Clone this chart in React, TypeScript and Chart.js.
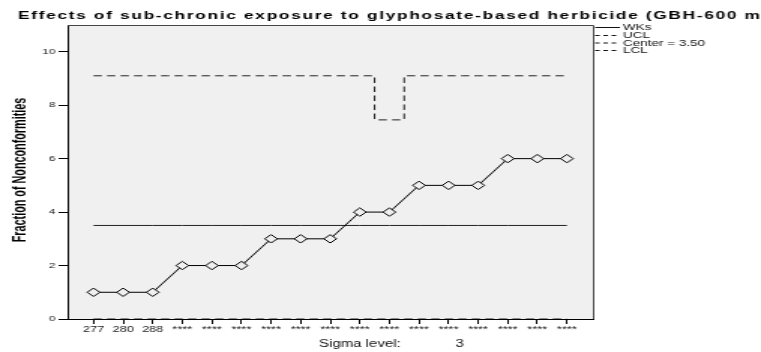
import React, { useEffect, useRef } from "react";
import { Chart, registerables } from "chart.js";

Chart.register(...registerables);

const categories = ["277", "280", "288", "****", "****", "****", "****", "****", "****", "****", "****", "****", "****", "****", "****", "****", "****"];
const wksValues = [1, 1, 1, 2, 2, 2, 3, 3, 3, 4, 4, 5, 5, 5, 6, 6, 6];
const uclValues = [9.1, 9.1, 9.1, 9.1, 9.1, 9.1, 9.1, 9.1, 9.1, 9.1, 7.45, 9.1, 9.1, 9.1, 9.1, 9.1, 9.1];
const centerValues = [3.5, 3.5, 3.5, 3.5, 3.5, 3.5, 3.5, 3.5, 3.5, 3.5, 3.5, 3.5, 3.5, 3.5, 3.5, 3.5, 3.5];
const lclValues = [0, 0, 0, 0, 0, 0, 0, 0, 0, 0, 0, 0, 0, 0, 0, 0, 0];
const yTicks = [0, 2, 4, 6, 8, 10];
const legendLabels = ["WKs", "UCL", "Center = 3.50", "LCL"];
const titleText = "Effects of sub-chronic exposure to glyphosate-based herbicide (GBH-600 mg/kg)";
const yTitle = "Fraction of Nonconformities";
const sigmaLabel = "Sigma level:";
const sigmaValue = "3";

const W = 507;
const H = 352;
const STRETCH = 761 / W;
const FONT = "'Liberation Sans', Arial, sans-serif";

const pts = (arr: number[]) => arr.map((v, i) => ({ x: i, y: v }));

const decorPlugin = {
  id: "decor",
  beforeDraw(chart: any) {
    const { ctx, chartArea: a } = chart;
    ctx.save();
    ctx.fillStyle = "#ffffff";
    ctx.fillRect(0, 0, chart.width, chart.height);
    ctx.fillStyle = "#f0f0f0";
    ctx.fillRect(a.left, a.top, a.right - a.left, a.bottom - a.top);
    ctx.restore();
  },
  afterDraw(chart: any) {
    const { ctx, chartArea: a } = chart;
    ctx.save();
    // frame
    ctx.strokeStyle = "#444";
    ctx.lineWidth = 1;
    ctx.beginPath();
    ctx.moveTo(a.left, a.top + 0.5);
    ctx.lineTo(a.right + 0.5, a.top + 0.5);
    ctx.lineTo(a.right + 0.5, a.bottom);
    ctx.stroke();

    // title
    ctx.fillStyle = "#000";
    ctx.font = `bold 11.5px ${FONT}`;
    (ctx as any).letterSpacing = "1.13px";
    ctx.textAlign = "left";
    ctx.textBaseline = "alphabetic";
    ctx.fillText(titleText, 12, 19);
    (ctx as any).letterSpacing = "0px";

    // y title
    ctx.save();
    ctx.translate(13.5, 170);
    ctx.rotate(-Math.PI / 2);
    ctx.scale(0.83, 1);
    ctx.font = `bold 13px ${FONT}`;
    ctx.textAlign = "center";
    ctx.textBaseline = "middle";
    ctx.fillText(yTitle, 0, 0);
    ctx.restore();

    // sigma level
    ctx.font = `10px ${FONT}`;
    ctx.fillStyle = "#111";
    ctx.textAlign = "left";
    ctx.fillText(sigmaLabel, 212.5, 347);
    ctx.fillText(sigmaValue, 303.5, 347);

    // legend
    const lx0 = 396.5;
    const lx1 = 413;
    const rows = [27, 35, 42.5, 50];
    ctx.font = `9px ${FONT}`;
    ctx.textBaseline = "middle";
    ctx.fillStyle = "#111";
    ctx.strokeStyle = "#111";
    ctx.lineWidth = 1;
    legendLabels.forEach((lab, i) => {
      ctx.setLineDash(i === 0 ? [] : [3, 2.5]);
      ctx.beginPath();
      ctx.moveTo(lx0, rows[i] + 0.5);
      ctx.lineTo(lx1, rows[i] + 0.5);
      ctx.stroke();
      ctx.fillText(lab, lx1 + 2, rows[i] + 1);
    });
    ctx.setLineDash([]);
    ctx.restore();
  },
};

export default function App() {
  const ref = useRef<HTMLCanvasElement | null>(null);

  useEffect(() => {
    document.body.style.margin = "0";
    document.body.style.overflow = "hidden";
    const canvas = ref.current;
    if (!canvas) return;
    const chart = new Chart(canvas, {
      type: "line",
      data: {
        datasets: [
          {
            label: "WKs",
            data: pts(wksValues),
            borderColor: "#000",
            borderWidth: 1,
            pointStyle: "rectRot",
            pointRadius: 4.2,
            pointBackgroundColor: "#f0f0f0",
            pointBorderColor: "#000",
            pointBorderWidth: 1,
            order: 0,
          },
          {
            label: "UCL",
            data: pts(uclValues),
            borderColor: "#222",
            borderWidth: 1,
            borderDash: [5.5, 3.5],
            stepped: "middle",
            pointRadius: 0,
            order: 1,
          },
          {
            label: "Center = 3.50",
            data: pts(centerValues),
            borderColor: "#222",
            borderWidth: 1,
            pointRadius: 0,
            order: 2,
          },
          {
            label: "LCL",
            data: pts(lclValues),
            borderColor: "#222",
            borderWidth: 1,
            borderDash: [5.5, 3.5],
            pointRadius: 0,
            order: 3,
          },
        ],
      },
      options: {
        animation: false,
        responsive: false,
        devicePixelRatio: 1,
        layout: { padding: { top: 25, right: W - 395, left: 0, bottom: 0 } },
        plugins: { legend: { display: false }, tooltip: { enabled: false }, title: { display: false } },
        scales: {
          x: {
            type: "linear",
            min: -0.878,
            max: 16.878,
            afterFit: (s: any) => {
              s.height = 33;
            },
            afterBuildTicks: (s: any) => {
              s.ticks = categories.map((_, i) => ({ value: i }));
            },
            grid: { display: true, drawOnChartArea: false, drawTicks: true, tickLength: 5, color: "#000", lineWidth: 1 },
            border: { display: true, color: "#000", width: 1 },
            ticks: {
              autoSkip: false,
              maxRotation: 0,
              minRotation: 0,
              padding: 1,
              color: "#222",
              font: { family: FONT, size: 8.5 },
              callback: (v: any) => categories[Math.round(Number(v))] ?? "",
            },
          },
          y: {
            type: "linear",
            min: 0,
            max: 11,
            afterFit: (s: any) => {
              s.width = 45;
            },
            afterBuildTicks: (s: any) => {
              s.ticks = yTicks.map((v) => ({ value: v }));
            },
            grid: { display: true, drawOnChartArea: false, drawTicks: true, tickLength: 6, color: "#000", lineWidth: 1 },
            border: { display: true, color: "#000", width: 1 },
            ticks: {
              padding: 2,
              color: "#222",
              font: { family: FONT, size: 8 },
              callback: (v: any) => String(v),
            },
          },
        },
      },
      plugins: [decorPlugin],
    } as any);
    return () => chart.destroy();
  }, []);

  return (
    <div style={{ width: W, height: H, transform: `scaleX(${STRETCH})`, transformOrigin: "0 0", overflow: "visible" }}>
      <canvas ref={ref} width={W} height={H} style={{ width: W, height: H, display: "block" }} />
    </div>
  );
}
